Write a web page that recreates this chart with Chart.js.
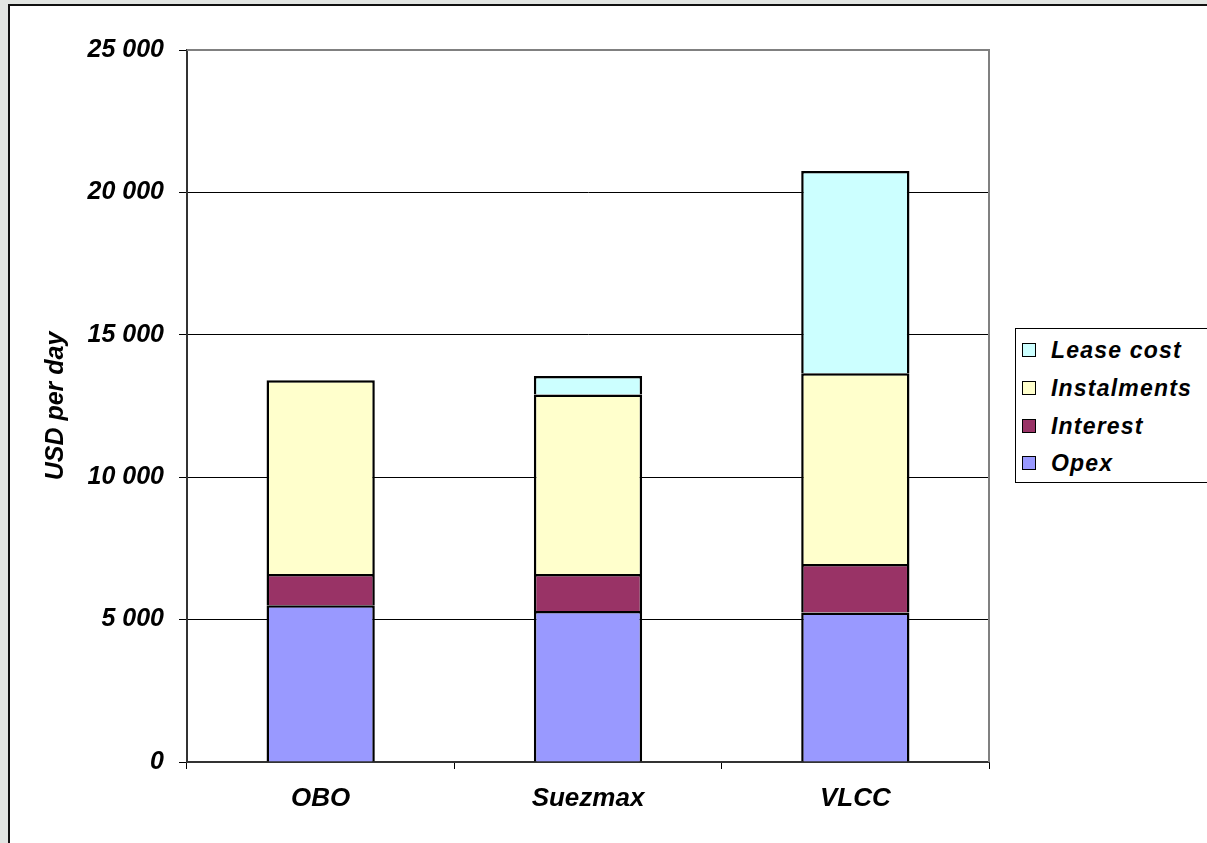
<!DOCTYPE html>
<html><head><meta charset="utf-8">
<script src="https://cdn.jsdelivr.net/npm/chart.js@4/dist/chart.umd.min.js"></script>
<style>
html,body{margin:0;padding:0;width:1207px;height:843px;overflow:hidden;background:#e2e5e2;}
#frame{position:absolute;left:8px;top:4px;width:1300px;height:900px;background:#fff;border-left:2px solid #111;border-top:2px solid #111;}
#c{position:absolute;left:0;top:0;}
#legend{position:absolute;left:1015px;top:328px;width:260px;height:153px;border:1px solid #000;background:#fff;font:italic bold 23px "Liberation Sans",Arial,sans-serif;letter-spacing:1.2px;color:#000;}
.item{position:absolute;left:0;height:30px;line-height:30px;}
.sw{position:absolute;left:6px;top:8px;width:12px;height:12px;border:1.5px solid #000;}
.lbl{position:absolute;left:35px;top:0;white-space:nowrap;}
</style></head><body>
<div id="frame"></div>
<canvas id="c" width="1207" height="843" style="width:1207px;height:843px"></canvas>
<div id="legend"></div>
<script>
const categories = ['OBO', 'Suezmax', 'VLCC'];
const opex = [5500, 5300, 5250];
const interest = [1100, 1300, 1700];
const instalments = [6800, 6300, 6700];
const leaseCost = [null, 650, 7100];
const yTickLabels = ['0', '5 000', '10 000', '15 000', '20 000', '25 000'];
const seriesNames = ['Opex', 'Interest', 'Instalments', 'Lease cost'];
const seriesColors = ['#9999FF', '#993366', '#FFFFCC', '#CCFFFF'];
const seriesData = [opex, interest, instalments, leaseCost];

const FONT = '"Liberation Sans", Arial, sans-serif';

const datasets = seriesNames.map((n, i) => ({
  label: n,
  data: seriesData[i],
  backgroundColor: seriesColors[i],
  borderColor: '#000',
  borderWidth: 2.5,
  borderSkipped: 'start',
  inflateAmount: 0,
  categoryPercentage: 1,
  barPercentage: 0.405
}));

const frameLines = {
  id: 'frameLines',
  afterDatasetsDraw(chart) {
    const a = chart.chartArea, ctx = chart.ctx;
    ctx.save();
    ctx.strokeStyle = '#808080';
    ctx.lineWidth = 2;
    ctx.beginPath();
    ctx.moveTo(a.left, a.top);
    ctx.lineTo(a.right, a.top);
    ctx.lineTo(a.right, a.bottom);
    ctx.stroke();
    ctx.restore();
  }
};

new Chart(document.getElementById('c'), {
  type: 'bar',
  data: { labels: categories, datasets },
  plugins: [frameLines],
  options: {
    responsive: false,
    animation: false,
    layout: { padding: { top: 50, right: 218, left: 0, bottom: 0 } },
    plugins: { legend: { display: false }, tooltip: { enabled: false } },
    scales: {
      x: {
        stacked: true,
        afterFit(s) { s.height = 81; },
        grid: { display: true, drawOnChartArea: false, drawTicks: true, tickLength: 7, color: '#000', tickColor: '#000', offset: true },
        border: { display: true, color: '#333', width: 2 },
        ticks: { color: '#000', padding: 14, font: { family: FONT, size: 26, weight: 'bold', style: 'italic' } }
      },
      y: {
        stacked: true,
        min: 0, max: 25000,
        afterFit(s) { s.width = 187; },
        afterBuildTicks(s) { s.ticks = yTickLabels.map((t, i) => ({ value: i * 5000 })); },
        grid: {
          color: (c) => (c.tick && c.tick.value === 25000) ? 'rgba(0,0,0,0)' : '#000',
          lineWidth: 1, tickLength: 8, tickColor: '#000'
        },
        border: { display: true, color: '#333', width: 2 },
        ticks: {
          color: '#000', padding: 15,
          font: { family: FONT, size: 25, weight: 'bold', style: 'italic' },
          callback: (v, i) => yTickLabels[i]
        },
        title: {
          display: true, text: 'USD per day', color: '#000',
          padding: { top: 41, bottom: 0 },
          font: { family: FONT, size: 25, weight: 'bold', style: 'italic' }
        }
      }
    }
  }
});

const legendEl = document.getElementById('legend');
const centers = [21, 59, 97, 134];
for (let k = 0; k < seriesNames.length; k++) {
  const i = seriesNames.length - 1 - k;
  const it = document.createElement('div');
  it.className = 'item';
  it.style.top = (centers[k] - 15) + 'px';
  it.innerHTML = '<span class="sw" style="background:' + seriesColors[i] + '"></span><span class="lbl">' + seriesNames[i] + '</span>';
  legendEl.appendChild(it);
}
</script>
</body></html>
